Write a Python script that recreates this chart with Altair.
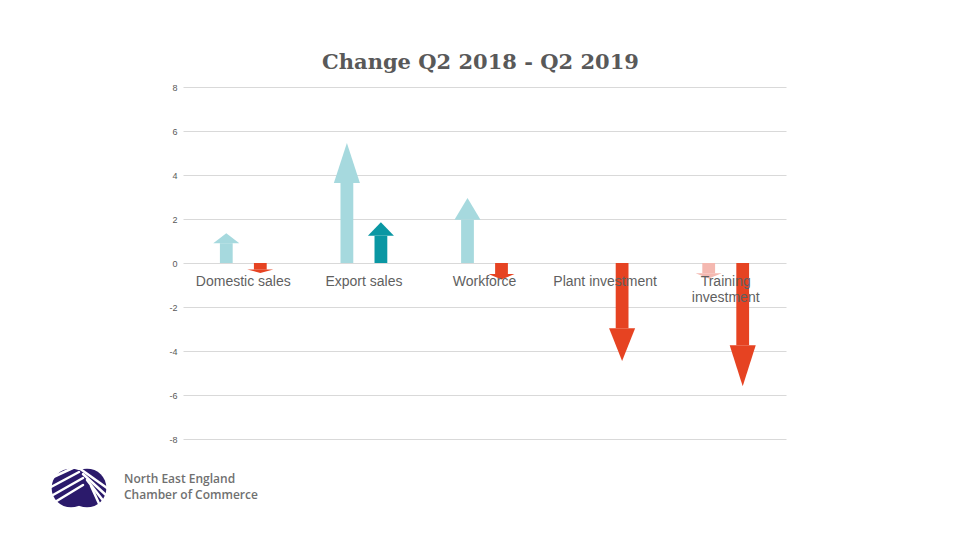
import altair as alt
import pandas as pd

categories = ["Domestic sales", "Export sales", "Workforce", "Plant investment", "Training\ninvestment"]
q2_2018 = [1.35, 5.45, 2.95, 0.0, -0.7]
q2_2019 = [-0.45, 1.85, -0.75, -4.45, -5.6]
y_ticks = [-8, -6, -4, -2, 0, 2, 4, 6, 8]

SERIES_OFF = 0.141
SHAFT_HW = 0.053
HEAD_HW = 0.108
colors = {(0, True): "#A6D9DE", (0, False): "#F4B8B0", (1, True): "#0A97A3", (1, False): "#E64322"}

shafts, heads = [], []
for i, cat in enumerate(categories):
    for s, vals in enumerate([q2_2018, q2_2019]):
        v = vals[i]
        if v == 0:
            continue
        c = i + (-SERIES_OFF if s == 0 else SERIES_OFF)
        base = v * 2 / 3
        col = colors[(s, v > 0)]
        aid = f"{i}-{s}"
        shafts.append(dict(x0=c - SHAFT_HW, x1=c + SHAFT_HW, y0=0, y1=base, col=col))
        heads.append(dict(aid=aid, x=c - HEAD_HW, ytip=base, ybase=base, col=col))
        heads.append(dict(aid=aid, x=c, ytip=v, ybase=base, col=col))
        heads.append(dict(aid=aid, x=c + HEAD_HW, ytip=base, ybase=base, col=col))

shaft_df = pd.DataFrame(shafts)
head_df = pd.DataFrame(heads)
label_df = pd.DataFrame(dict(idx=list(range(len(categories))), label=categories, zero=[0] * len(categories)))

xs = alt.Scale(domain=[-0.5, 4.5], nice=False, zero=False)
ys = alt.Scale(domain=[-8, 8], nice=False)

grid = alt.Chart(label_df).mark_point(opacity=0).encode(
    x=alt.X("idx:Q", scale=xs, axis=None),
    y=alt.Y("zero:Q", scale=ys, title=None,
            axis=alt.Axis(values=y_ticks, grid=True, gridColor="#D9D9D9", gridWidth=1,
                          domain=False, ticks=False, labelFontSize=9, labelColor="#595959",
                          labelFont="Liberation Sans", labelPadding=6,
                          labelExpr="toString(datum.value)")),
)

shaft = alt.Chart(shaft_df).mark_rect().encode(
    x=alt.X("x0:Q", scale=xs, axis=None), x2="x1:Q",
    y=alt.Y("y0:Q", scale=ys), y2="y1:Q",
    color=alt.Color("col:N", scale=None),
)

head = alt.Chart(head_df).mark_area(interpolate="linear").encode(
    x=alt.X("x:Q", scale=xs, axis=None),
    y=alt.Y("ytip:Q", scale=ys), y2="ybase:Q",
    detail="aid:N",
    color=alt.Color("col:N", scale=None),
)

labels = alt.Chart(label_df).mark_text(
    baseline="top", dy=12, fontSize=14, font="Liberation Sans", color="#5F5F5F", lineBreak="\n",
    lineHeight=16,
).encode(
    x=alt.X("idx:Q", scale=xs, axis=None),
    y=alt.Y("zero:Q", scale=ys),
    text="label:N",
)

# Decorative logo (pixel positions relative to plot area)
logo_ball = alt.Chart(pd.DataFrame(dict(px=[-112, -96], py=[401, 401]))).mark_point(
    shape="circle", filled=True, size=1500, color="#2B1A6B", opacity=1
).encode(x=alt.X("px:Q", scale=None), y=alt.Y("py:Q", scale=None))

logo_stripes = alt.Chart(pd.DataFrame(dict(
    a=[-134, -132, -130, -128, -104, -100, -96, -92],
    b=[392, 400, 408, 415, 381, 387, 393, 399],
    a2=[-108, -104, -100, -100, -76, -76, -78, -82],
    b2=[380, 385, 391, 398, 401, 409, 416, 421],
))).mark_rule(color="white", strokeWidth=2.5, strokeCap="round").encode(
    x=alt.X("a:Q", scale=None), y=alt.Y("b:Q", scale=None),
    x2="a2:Q", y2="b2:Q",
)

logo_text = alt.Chart(pd.DataFrame(dict(t=["North East England\nChamber of Commerce"],
                                        yy=[387]))).mark_text(
    align="left", baseline="top", fontSize=12, font="Open Sans", fontWeight=600, color="#707070",
    lineBreak="\n", lineHeight=16,
).encode(x=alt.value(-59), y=alt.Y("yy:Q", scale=None), text="t:N")

chart = alt.layer(grid, shaft, head, labels, logo_ball, logo_stripes, logo_text).properties(
    width=603, height=352,
    autosize=alt.AutoSizeParams(type="none"),
    padding={"left": 175, "top": 79, "right": 166, "bottom": 93},
    title=alt.TitleParams("Change Q2 2018 - Q2 2019", font="DejaVu Serif", fontSize=21,
                          fontWeight="bold", color="#595959", anchor="middle", offset=10, dx=-4),
).configure_view(stroke=None)

chart.save("out.html", embed_options={"renderer": "svg", "actions": False})
